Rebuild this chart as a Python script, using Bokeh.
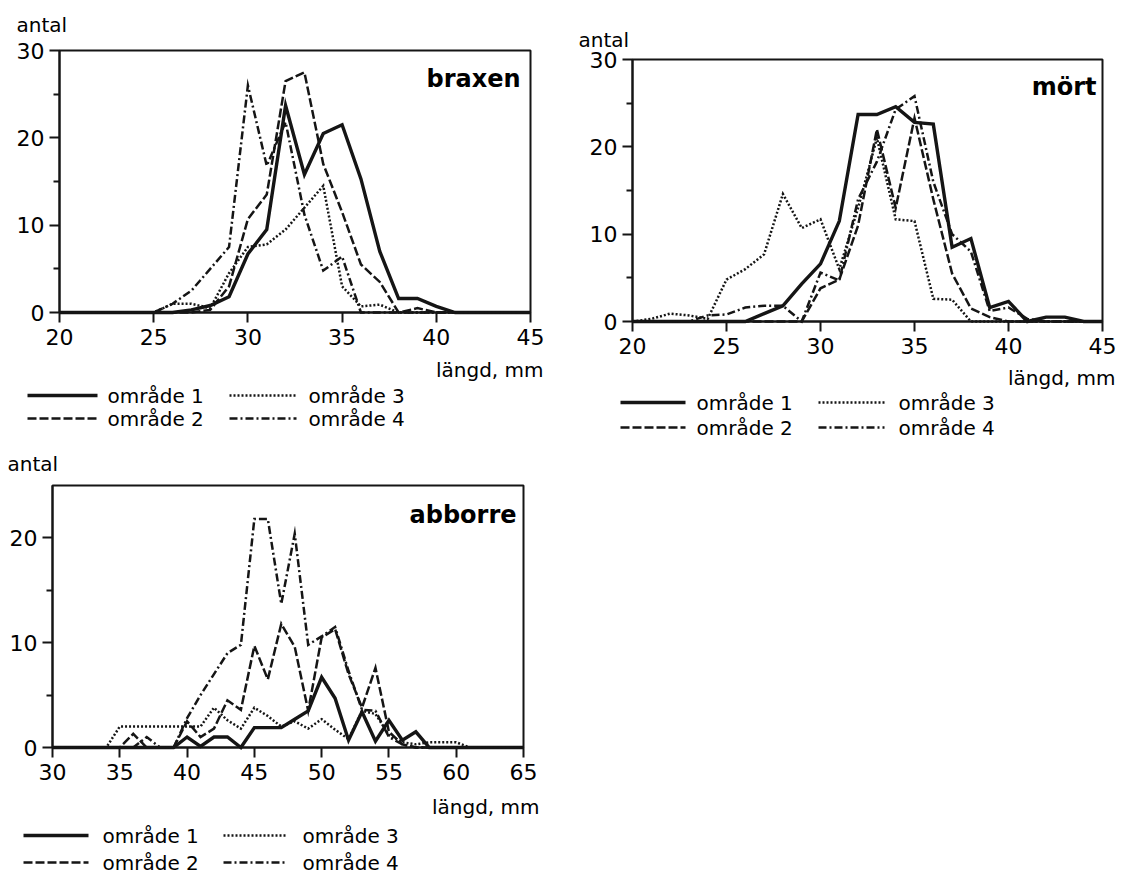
from bokeh.plotting import figure
from bokeh.models import Range1d, FixedTicker, Label, Arrow, BoxAnnotation
from bokeh.layouts import row, column
from bokeh.embed import file_html
from bokeh.resources import INLINE

# ---------------- data ----------------
brax_len = list(range(20, 46))
brax_1 = [0, 0, 0, 0, 0, 0, 0, 0.3, 0.8, 1.8, 6.7, 9.5, 23.7, 15.8, 20.5, 21.5, 15.3, 7.0, 1.6, 1.6, 0.7, 0, 0, 0, 0, 0]
brax_2 = [0, 0, 0, 0, 0, 0, 0, 0, 0.3, 3.0, 10.7, 13.5, 26.5, 27.5, 17.0, 11.5, 5.5, 3.5, 0, 0.5, 0, 0, 0, 0, 0, 0]
brax_3 = [0, 0, 0, 0, 0, 0, 1.0, 1.0, 0.5, 4.5, 7.5, 7.8, 9.5, 12.0, 14.5, 3.0, 0.7, 0.9, 0, 0, 0, 0, 0, 0, 0, 0]
brax_4 = [0, 0, 0, 0, 0, 0, 1.0, 2.5, 5.0, 7.5, 26.0, 16.8, 21.8, 11.2, 4.8, 6.4, 0, 0, 0, 0, 0, 0, 0, 0, 0, 0]

mort_len = list(range(20, 46))
mort_1 = [0, 0, 0, 0, 0, 0, 0, 0.9, 1.8, 4.3, 6.6, 11.5, 23.7, 23.7, 24.6, 22.8, 22.6, 8.5, 9.5, 1.6, 2.3, 0, 0.5, 0.5, 0, 0]
mort_2 = [0, 0, 0, 0, 0, 0, 0, 0, 0, 0, 3.8, 4.8, 11.0, 22.0, 13.0, 23.3, 14.0, 5.5, 1.5, 0.5, 0, 0, 0, 0, 0, 0]
mort_3 = [0, 0.3, 0.9, 0.7, 0.3, 4.8, 6.0, 7.7, 14.6, 10.7, 11.7, 6.0, 13.0, 21.0, 11.7, 11.5, 2.6, 2.5, 0, 0, 0, 0, 0, 0, 0, 0]
mort_4 = [0, 0, 0, 0, 0.7, 0.8, 1.6, 1.8, 1.8, 0, 5.6, 4.7, 14.0, 18.3, 24.3, 25.8, 16.0, 10.0, 8.0, 1.2, 1.6, 0.3, 0, 0, 0, 0]

abb_len = list(range(30, 66))
abb_1 = [0, 0, 0, 0, 0, 0, 0, 0, 0, 0, 1.0, 0.1, 1.0, 1.0, 0, 1.9, 1.9, 1.9, 2.7, 3.5, 6.7, 4.7, 0.7, 3.4, 0.6, 2.6, 0.7, 1.5, 0, 0, 0, 0, 0, 0, 0, 0]
abb_2 = [0, 0, 0, 0, 0, 0, 1.3, 0, 0, 0, 2.5, 1.0, 1.8, 4.5, 3.6, 9.7, 6.5, 11.8, 9.6, 3.5, 10.5, 11.3, 7.0, 3.8, 7.6, 1.5, 0.3, 0, 0, 0, 0, 0, 0, 0, 0, 0]
abb_3 = [0, 0, 0, 0, 0, 2.0, 2.0, 2.0, 2.0, 2.0, 2.0, 2.0, 3.8, 2.6, 1.8, 3.8, 3.0, 2.0, 2.5, 1.8, 2.7, 1.7, 0.8, 3.5, 3.2, 1.2, 0.5, 0.3, 0.5, 0.5, 0.5, 0, 0, 0, 0, 0]
abb_4 = [0, 0, 0, 0, 0, 0, 0, 1.0, 0, 0, 2.8, 5.0, 7.0, 9.0, 9.8, 21.8, 21.8, 13.7, 20.4, 9.8, 10.6, 11.5, 7.3, 3.6, 3.5, 1.0, 0.3, 0, 0, 0, 0, 0, 0, 0, 0, 0]

series_labels = ["område 1", "område 2", "område 3", "område 4"]
x_label = "längd, mm"
y_label = "antal"

# ---------------- styles ----------------
INK = "#151515"
STYLES = [
    dict(line_width=3.4, line_dash="solid"),
    dict(line_width=2.5, line_dash="9 3"),
    dict(line_width=2.5, line_dash="2 2"),
    dict(line_width=2.5, line_dash="8 3 2 3"),
]
FONT = "DejaVu Sans"


def make_panel(name, xs, ys_list, xr, yr, xticks, yticks, yminor,
               fig_w, fig_h, page_left, page_top, fl, ft, fw, fh,
               antal_pos, title_pos, xlab_pos, leg_rows, leg_cols):
    # frame geometry (page px) -> data extent covering the whole canvas
    bl = fl - page_left
    bt = ft - page_top
    br = fig_w - bl - fw
    bb = fig_h - bt - fh
    sx = (xr[1] - xr[0]) / fw
    sy = (yr[1] - yr[0]) / fh
    p = figure(width=fig_w, height=fig_h, output_backend="svg", toolbar_location=None,
               x_range=Range1d(xr[0] - bl * sx, xr[1] + br * sx),
               y_range=Range1d(yr[0] - bb * sy, yr[1] + bt * sy),
               min_border=0)
    p.xgrid.visible = False
    p.ygrid.visible = False
    p.background_fill_color = "white"
    p.border_fill_color = "white"
    p.outline_line_color = None

    p.xaxis.fixed_location = yr[0]
    p.yaxis.fixed_location = xr[0]
    p.xaxis.bounds = xr
    p.yaxis.bounds = yr
    p.xaxis.ticker = FixedTicker(ticks=xticks)
    p.yaxis.ticker = FixedTicker(ticks=yticks, minor_ticks=yminor)
    for ax in (p.xaxis[0], p.yaxis[0]):
        ax.axis_line_color = INK
        ax.axis_line_width = 2
        ax.major_tick_line_color = INK
        ax.major_tick_line_width = 2
        ax.major_tick_in = 0
        ax.major_tick_out = 10
        ax.minor_tick_in = 0
        ax.major_label_text_font = FONT
        ax.major_label_text_font_size = "22px"
        ax.major_label_text_color = "black"
    p.xaxis.minor_tick_line_color = None
    p.yaxis.minor_tick_out = 6
    p.yaxis.minor_tick_line_color = INK
    p.yaxis.minor_tick_line_width = 2
    p.xaxis.major_label_standoff = 6
    p.yaxis.major_label_standoff = 5

    # plot frame box
    p.add_layout(BoxAnnotation(left=xr[0], right=xr[1], bottom=yr[0], top=yr[1],
                               fill_color=None, line_color=INK, line_width=2, line_alpha=1))

    for ys, st in zip(ys_list, STYLES):
        p.line(xs, ys, line_color=INK, line_join="miter", **st)

    fb = ft + fh

    def d(px, py):
        return (xr[0] + (px - fl) * sx, yr[0] + (fb - py) * sy)

    def lab(px, py, text, align="left", size="20px", style="normal"):
        x, y = d(px, py)
        p.add_layout(Label(x=x, y=y, text=text, text_font=FONT, text_font_size=size,
                           text_font_style=style, text_align=align, text_baseline="middle",
                           text_color="black"))

    lab(antal_pos[0], antal_pos[1], y_label)
    lab(title_pos[0], title_pos[1], name, align="right", size="24px", style="bold")
    lab(xlab_pos[0], xlab_pos[1], x_label, align="right")

    order = [[0, 2], [1, 3]]
    for r, py in enumerate(leg_rows):
        for c, (lx0, lx1, tx) in enumerate(leg_cols):
            k = order[r][c]
            xa, ya = d(lx0, py)
            xb, yb = d(lx1, py)
            p.add_layout(Arrow(end=None, start=None, x_start=xa, y_start=ya, x_end=xb, y_end=yb,
                               line_color=INK, **STYLES[k]))
            lab(tx, py, series_labels[k])
    return p


brax = make_panel("braxen", brax_len, [brax_1, brax_2, brax_3, brax_4], (20, 45), (0, 30),
                  [20, 25, 30, 35, 40, 45], [0, 10, 20, 30], [5, 15, 25],
                  578, 440, 0, 0, 59, 50, 471, 262,
                  (16, 24), (520, 78), (543, 369), (395, 418),
                  [(27, 97, 107), (229, 296, 308)])

abb = make_panel("abborre", abb_len, [abb_1, abb_2, abb_3, abb_4], (30, 65), (0, 25),
                 [30, 35, 40, 45, 50, 55, 60, 65], [0, 10, 20], [5, 15],
                 578, 434, 0, 440, 52, 485, 471, 262,
                 (7, 463), (516, 514), (539, 806), (835, 862),
                 [(23, 88, 102), (223, 286, 302)])

mort = make_panel("mört", mort_len, [mort_1, mort_2, mort_3, mort_4], (20, 45), (0, 30),
                  [20, 25, 30, 35, 40, 45], [0, 10, 20, 30], [5, 15, 25],
                  553, 440, 578, 0, 632, 59, 470, 262,
                  (578, 39), (1096, 86), (1115, 377), (402, 427),
                  [(620, 685, 696), (818, 884, 898)])

layout = row(column(brax, abb), mort)
open("out.html", "w").write(file_html(layout, INLINE))
